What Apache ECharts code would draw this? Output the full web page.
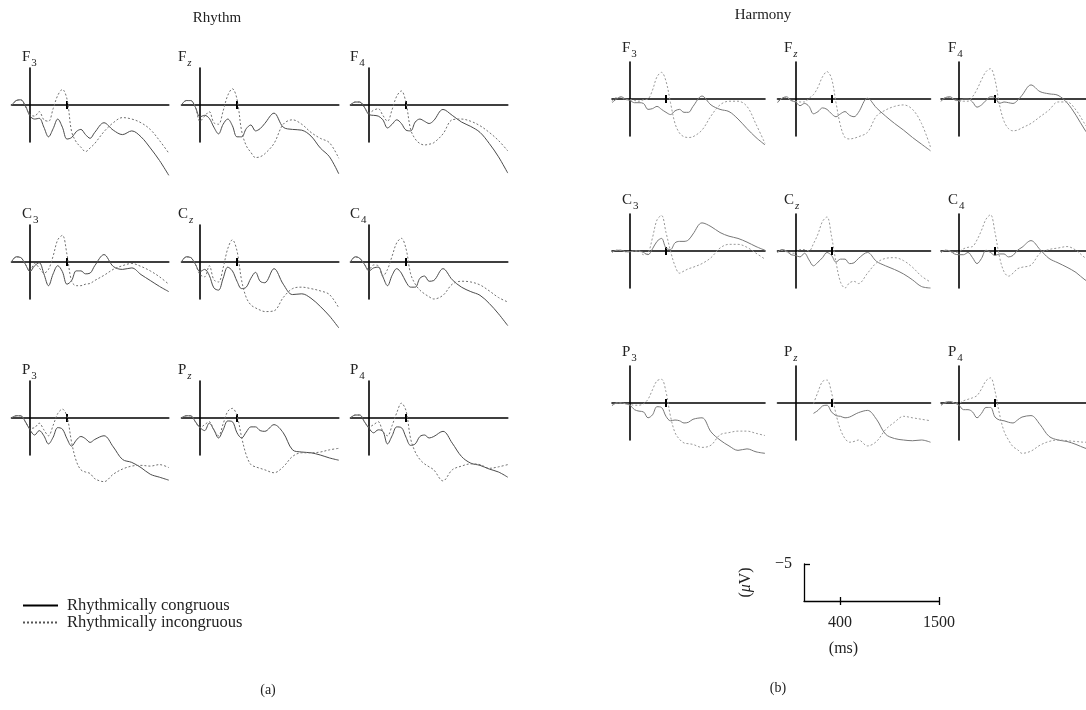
<!DOCTYPE html>
<html>
<head>
<meta charset="utf-8">
<script src="https://cdn.jsdelivr.net/npm/echarts@6/dist/echarts.min.js"></script>
<style>
  html, body { margin: 0; background: #fff; }
  #chart { width: 1086px; height: 710px; }
</style>
</head>
<body>
<div id="chart"></div>
<script>
// time points (ms)
const times = [-200, -150, -100, -50, 0, 50, 100, 150, 200, 250, 300, 350, 400, 450, 500, 550, 600, 650, 700, 800, 900, 1000, 1100, 1200, 1300, 1400, 1500]

// Rhythm, µV (negative plotted up)
const rhyF3Con = [0.1, -0.6, -0.7, 0.1, 1.5, 1.9, 1.8, 3.0, 4.3, 3.2, 1.9, 3.0, 4.6, 4.4, 3.6, 3.3, 4.0, 4.5, 3.7, 2.4, 3.4, 4.0, 3.5, 4.3, 5.8, 7.5, 9.5]
const rhyF3Inc = [0.1, -0.6, -0.7, 0.2, 1.3, 1.5, 0.9, 2.0, 2.2, 0.5, -1.3, -2.1, -0.8, 3.6, 5.0, 5.7, 6.3, 5.8, 5.2, 3.6, 2.4, 1.7, 1.9, 2.4, 3.3, 4.8, 6.5]
const rhyFzCon = [0, -0.6, -0.6, 0.3, 1.6, 1.4, 1.8, 3.0, 3.9, 2.6, 1.9, 2.8, 4.3, 4.3, 3.2, 2.7, 3.5, 3.2, 2.5, 1.1, 3.0, 3.3, 3.4, 4.2, 5.8, 7.0, 9.3]
const rhyFzInc = [0, -0.6, -0.6, 0.3, 2.2, 1.5, 0.9, 2.4, 2.6, 0.8, -1.3, -2.2, -0.8, 3.5, 5.5, 6.4, 7.1, 7.0, 6.6, 5.2, 2.6, 2.0, 2.6, 3.7, 4.5, 5.1, 7.2]
const rhyF4Con = [0, -0.4, -0.4, 0.3, 1.3, 1.4, 1.5, 2.0, 3.1, 2.6, 2.0, 2.5, 3.4, 3.5, 2.3, 1.9, 2.2, 2.5, 2.1, 0.6, 1.4, 2.3, 2.9, 3.7, 5.2, 7.0, 9.2]
const rhyF4Inc = [0, -0.4, -0.4, 0.3, 1.1, 0.7, 0.5, 1.4, 2.2, 0.6, -1.2, -1.9, -0.3, 3.3, 4.6, 5.2, 5.4, 5.3, 5.1, 3.9, 2.0, 1.9, 2.2, 2.8, 3.7, 4.8, 6.2]
const rhyC3Con = [0, -0.7, -0.6, 0.3, 1.3, 0.5, 0.1, 1.6, 3.2, 1.6, 0.5, 1.3, 3.0, 2.5, 1.2, 1.2, 1.6, 1.5, 0.5, -1.0, 0.6, 1.0, 0.8, 1.7, 2.5, 3.3, 4.0]
const rhyC3Inc = [0, -0.7, -0.6, 0.3, 1.2, 0.2, 0.8, 1.5, 1.0, -0.8, -3.0, -3.6, -1.0, 2.6, 3.2, 3.2, 3.0, 2.9, 2.5, 1.8, 1.0, 0.5, 0.2, 0.6, 1.2, 2.0, 3.0]
const rhyCzCon = [0, -0.7, -0.6, 0.3, 1.3, 1.0, 1.8, 3.5, 3.8, 2.2, 0.7, 1.2, 2.6, 3.6, 3.4, 2.2, 1.4, 2.6, 2.8, 0.9, 3.0, 4.4, 4.3, 4.9, 6.0, 7.3, 8.9]
const rhyCzInc = [0, -0.7, -0.6, 0.3, 1.7, 2.0, 0.5, 2.4, 2.7, 0.8, -1.8, -3.0, -1.5, 2.5, 4.8, 5.8, 6.2, 6.5, 6.7, 6.6, 4.8, 3.6, 3.4, 3.6, 3.9, 4.4, 6.2]
const rhyC4Con = [0, -0.7, -0.5, 0.3, 1.2, 0.8, 0.7, 2.0, 3.2, 1.8, 0.9, 1.5, 2.7, 3.4, 3.4, 2.2, 1.9, 2.6, 2.5, 0.9, 2.4, 3.4, 4.0, 4.5, 5.6, 7.0, 8.6]
const rhyC4Inc = [0, -0.7, -0.5, 0.3, 1.0, 0.4, 0.5, 1.9, 1.0, -0.8, -2.6, -3.2, -1.8, 1.6, 3.0, 3.8, 4.3, 4.7, 5.0, 4.5, 3.0, 2.6, 2.7, 3.1, 3.9, 4.8, 5.4]
const rhyP3Con = [0, -0.3, -0.3, 0.5, 1.6, 2.3, 1.7, 2.4, 3.5, 2.6, 1.3, 1.5, 2.8, 3.8, 3.0, 2.5, 2.8, 3.3, 2.9, 2.4, 3.9, 5.6, 6.0, 6.7, 7.6, 8.0, 8.4]
const rhyP3Inc = [0, -0.3, -0.3, 0.5, 1.4, 1.3, 0.7, 1.6, 2.4, 1.0, -0.6, -1.2, -0.2, 3.3, 5.8, 7.0, 7.3, 7.5, 8.2, 8.6, 7.6, 6.9, 6.5, 6.4, 6.5, 6.3, 6.7]
const rhyPzCon = [0, -0.3, -0.3, 0.5, 1.3, 1.7, 0.7, 1.6, 2.7, 1.6, 0.4, 0.5, 2.0, 2.7, 1.9, 1.2, 1.2, 1.7, 1.8, 0.9, 2.0, 4.3, 4.6, 4.7, 5.0, 5.4, 5.7]
const rhyPzInc = [0, -0.3, -0.3, 0.5, 1.3, 0.9, 0.5, 1.6, 2.4, 0.8, -0.9, -1.3, -0.3, 2.6, 5.0, 6.3, 6.6, 6.8, 7.0, 7.4, 6.6, 5.2, 4.7, 4.7, 4.6, 4.3, 4.1]
const rhyP4Con = [0, -0.4, -0.4, 0.5, 1.4, 2.0, 1.6, 1.8, 3.5, 2.4, 1.2, 1.3, 2.6, 3.7, 3.5, 2.5, 2.3, 2.7, 2.5, 1.8, 3.4, 5.2, 6.1, 6.4, 6.9, 7.3, 8.0]
const rhyP4Inc = [0, -0.4, -0.4, 0.5, 1.2, 0.9, 0.5, 1.8, 2.4, 1.0, -0.7, -2.0, -1.0, 2.8, 4.6, 5.6, 6.2, 6.6, 7.0, 8.5, 7.0, 6.5, 6.2, 6.3, 6.8, 6.6, 6.3]

// Harmony, µV
const harF3Con = [0.5, 0, -0.3, 0, 0.2, 0.5, 0.5, 0.6, 1.4, 1.3, 1.0, 1.4, 1.8, 2.1, 1.6, 1.4, 1.8, 1.8, 1.0, -0.4, 0.8, 1.4, 1.7, 2.7, 4.0, 5.2, 6.2]
const harF3Inc = [0.3, -0.2, -0.2, 0.1, 0.1, 0.2, 0.3, 0.1, 0.0, -1.2, -3.0, -3.6, -2.4, 0.5, 3.3, 4.6, 5.1, 5.2, 5.1, 4.2, 2.3, 0.8, 0.3, 0.3, 1.0, 3.4, 6.0]
const harFzCon = [0.5, -0.1, -0.3, 0.2, 0.4, 0.9, 0.6, 1.0, 2.0, 1.7, 1.2, 1.4, 2.0, 2.4, 2.0, 1.7, 2.2, 2.4, 1.8, -0.1, 1.2, 2.3, 3.3, 4.2, 5.2, 6.1, 7.0]
const harFzInc = [0.4, -0.1, -0.2, 0.2, 0.3, 0.4, 0.4, -0.1, -0.6, -1.6, -3.0, -3.7, -2.8, 0.5, 3.6, 5.2, 5.4, 5.3, 5.1, 4.5, 2.3, 1.5, 1.0, 0.8, 1.4, 3.3, 6.5]
const harF4Con = [0.3, -0.2, -0.3, 0.1, 0.2, 0.0, 0.0, 0.4, 1.1, 0.8, 0.2, -0.3, -0.2, 0.6, 0.4, 0.5, 0.6, 0.2, -0.5, -1.9, -1.0, -0.7, -0.5, 0.5, 2.2, 4.2, 5.8]
const harF4Inc = [0.3, -0.2, -0.2, 0.1, 0.3, 0.3, 0.3, -0.3, -1.3, -2.6, -3.7, -4.1, -2.6, 0.8, 3.0, 4.0, 4.3, 4.2, 3.9, 3.3, 2.4, 1.5, 0.4, 0.4, 1.5, 3.4, 5.0]
const harC3Con = [0.2, -0.1, -0.1, 0.1, 0.1, 0.0, 0.0, 0.2, 0.5, -0.3, -1.3, -1.7, -0.4, -0.2, -1.1, -1.3, -1.3, -1.5, -2.3, -3.8, -3.3, -2.5, -2.0, -1.7, -1.2, -0.6, -0.1]
const harC3Inc = [0.2, -0.1, -0.1, 0.1, 0.1, 0.0, 0.0, 0.5, 0.3, -1.8, -4.2, -4.8, -2.5, 0.0, 2.0, 3.0, 2.7, 2.4, 2.2, 1.7, 0.9, -0.4, -0.9, -0.9, -0.5, 0.3, 1.1]
const harCzCon = [0.2, -0.2, 0.0, 0.5, 0.6, 0.8, 0.3, 1.2, 2.0, 1.5, 0.9, 0.2, 0.6, 1.5, 1.1, 1.1, 1.7, 1.6, 1.0, 0.2, 1.4, 2.0, 2.5, 3.1, 3.9, 4.8, 5.0]
const harCzInc = [0.2, -0.1, 0.1, 0.3, 0.3, -0.2, -0.2, 0.0, -1.0, -2.3, -4.0, -4.6, -2.0, 1.5, 4.2, 5.0, 4.3, 4.1, 4.4, 3.0, 1.6, 1.0, 0.9, 1.3, 2.2, 3.4, 4.2]
const harC4Con = [0.2, -0.1, 0.0, 0.4, 0.5, 0.5, 0.2, 0.9, 1.7, 1.0, -0.1, 0.2, 0.6, 0.4, 0.4, 0.8, 0.6, -0.1, -0.5, -1.4, -0.2, 1.0, 1.6, 2.2, 2.9, 3.9, 4.5]
const harC4Inc = [0.2, -0.1, 0.0, 0.2, 0.1, -0.3, -0.5, -0.6, -1.5, -2.8, -4.3, -4.9, -2.5, 0.8, 2.8, 3.4, 3.0, 2.4, 2.2, 1.9, 0.3, -0.2, -0.4, -0.6, -0.1, 0.9, 1.5]
const harP3Con = [0.4, 0.0, 0.0, 0.1, 0.3, 0.9, 1.1, 1.2, 2.0, 1.6, 0.5, 0.6, 1.8, 2.4, 2.3, 2.4, 2.7, 2.6, 2.2, 2.0, 3.9, 5.0, 5.8, 6.4, 6.2, 6.6, 6.8]
const harP3Inc = [0.3, 0.0, 0.0, 0.1, 0.2, 0.3, 0.3, 0.1, -0.5, -1.8, -3.0, -3.2, -1.5, 1.8, 4.0, 4.9, 5.4, 5.5, 5.6, 6.0, 5.7, 4.3, 4.0, 3.8, 3.8, 4.1, 4.4]
const harPzCon = [null, null, null, null, null, null, null, null, 1.4, 1.0, 0.4, 0.3, 1.2, 1.7, 1.8, 2.0, 1.9, 1.6, 1.3, 1.0, 2.2, 4.2, 4.8, 5.0, 5.1, 5.0, 5.3]
const harPzInc = [null, null, null, null, null, null, null, null, 0.1, -1.5, -2.9, -3.1, -1.4, 1.5, 3.6, 4.8, 5.3, 5.2, 5.0, 5.8, 5.2, 3.6, 2.6, 1.8, 2.0, 2.2, 2.4]
const harP4Con = [0.3, -0.1, -0.2, 0.0, 0.3, 0.9, 0.9, 1.2, 2.0, 1.4, 0.6, 0.6, 1.9, 2.3, 2.4, 2.6, 2.7, 2.3, 1.9, 1.7, 2.9, 4.5, 5.0, 5.2, 5.6, 6.1, 6.4]
const harP4Inc = [0.3, 0.0, -0.2, 0.0, 0.0, -0.3, -0.5, -0.7, -1.0, -1.9, -3.0, -3.4, -1.6, 1.5, 3.8, 5.0, 5.9, 6.3, 6.8, 6.5, 5.7, 5.2, 5.0, 5.1, 5.2, 5.3, 5.3]

// electrode labels (letter, subscript)
const electrodes = [['F', '3'], ['F', 'z'], ['F', '4'], ['C', '3'], ['C', 'z'], ['C', '4'], ['P', '3'], ['P', 'z'], ['P', '4']]
const rhythmCon = [rhyF3Con, rhyFzCon, rhyF4Con, rhyC3Con, rhyCzCon, rhyC4Con, rhyP3Con, rhyPzCon, rhyP4Con]
const rhythmInc = [rhyF3Inc, rhyFzInc, rhyF4Inc, rhyC3Inc, rhyCzInc, rhyC4Inc, rhyP3Inc, rhyPzInc, rhyP4Inc]
const harmonyCon = [harF3Con, harFzCon, harF4Con, harC3Con, harCzCon, harC4Con, harP3Con, harPzCon, harP4Con]
const harmonyInc = [harF3Inc, harFzInc, harF4Inc, harC3Inc, harCzInc, harC4Inc, harP3Inc, harPzInc, harP4Inc]

// scale bar ticks
const scaleMsTicks = [400, 1500]
const scaleUvTicks = [-5]

const serif = '"Liberation Serif", "DejaVu Serif", serif'
const textColor = '#222'

// panel layout for the two halves
const blocks = [
  {
    con: rhythmCon, inc: rhythmInc,
    names: ['Rhythmically congruous', 'Rhythmically incongruous'],
    x0: [30, 200, 369], base: [105, 262, 418], pxPerMs: 37 / 400,
    labelX: [22, 178, 350], labelDy: -55,
    conColor: '#4a4a4a', incColor: '#707070',
  },
  {
    con: harmonyCon, inc: harmonyInc,
    names: ['Harmonically congruous', 'Harmonically incongruous'],
    x0: [630, 795.5, 959], base: [99, 251, 403], pxPerMs: 36 / 400,
    labelX: [622, 784, 948], labelDy: -58,
    conColor: '#777', incColor: '#999',
  },
]

const chart = echarts.init(document.getElementById('chart'))

const grids = []
const xAxes = []
const yAxes = []
const series = []
const graphics = []

const axisColor = '#000'
const halfHeight = 37 // px for 5 µV

function toPoints(arr) {
  return times.map((t, k) => [t, arr[k] == null ? '-' : arr[k]])
}

let p = 0
blocks.forEach((b) => {
  for (let i = 0; i < 9; i++) {
    const row = Math.floor(i / 3)
    const col = i % 3
    const x0 = b.x0[col]
    const base = b.base[row]
    grids.push({
      left: x0 - 200 * b.pxPerMs,
      top: base - halfHeight,
      width: 1700 * b.pxPerMs,
      height: halfHeight * 2,
      containLabel: false,
      outerBoundsMode: 'none',
    })
    const tick = { show: true, customValues: [400], length: 4, lineStyle: { color: axisColor, width: 2 } }
    xAxes.push({
      gridIndex: p, type: 'value', min: -200, max: 1500,
      axisLine: { show: true, onZero: true, onZeroAxisIndex: p, lineStyle: { color: axisColor, width: 1.6 } },
      axisTick: tick,
      axisLabel: { show: false },
      splitLine: { show: false },
    })
    xAxes.push({
      gridIndex: p, type: 'value', min: -200, max: 1500, position: 'top',
      axisLine: { show: false, onZero: true, onZeroAxisIndex: p },
      axisTick: tick,
      axisLabel: { show: false },
      splitLine: { show: false },
    })
    yAxes.push({
      gridIndex: p, type: 'value', min: -5, max: 5, inverse: true,
      axisLine: { show: true, onZero: true, onZeroAxisIndex: 2 * p, lineStyle: { color: axisColor, width: 1.6 } },
      axisTick: { show: false },
      axisLabel: { show: false },
      splitLine: { show: false },
    })
    series.push({
      type: 'line', name: b.names[0], xAxisIndex: 2 * p, yAxisIndex: p,
      data: toPoints(b.con[i]), symbol: 'none', smooth: 0.35, clip: false, silent: true,
      itemStyle: { color: b.conColor },
      lineStyle: { color: b.conColor, width: 1 },
    })
    series.push({
      type: 'line', name: b.names[1], xAxisIndex: 2 * p, yAxisIndex: p,
      data: toPoints(b.inc[i]), symbol: 'none', smooth: 0.35, clip: false, silent: true,
      itemStyle: { color: b.incColor },
      lineStyle: { color: b.incColor, width: 1, type: [2, 2] },
    })
    const el = electrodes[i]
    graphics.push({
      type: 'text', left: b.labelX[col], top: base + b.labelDy,
      style: {
        text: '{b|' + el[0] + '}{' + (el[1] === 'z' ? 'z' : 's') + '|' + el[1] + '}',
        rich: {
          b: { fontFamily: serif, fontSize: 15, fill: textColor, verticalAlign: 'bottom', padding: [0, 1, 4, 0] },
          s: { fontFamily: serif, fontSize: 11, fill: textColor, verticalAlign: 'bottom' },
          z: { fontFamily: serif, fontSize: 11, fill: textColor, verticalAlign: 'bottom', fontStyle: 'italic' },
        },
      },
    })
    p++
  }
})

// scale bar (last grid)
const sb = p
grids.push({ left: 804, top: 564, width: 135, height: 37, containLabel: false, outerBoundsMode: 'none' })
const sbTick = { show: true, customValues: scaleMsTicks, length: 4, lineStyle: { color: axisColor, width: 1.3 } }
xAxes.push({
  gridIndex: sb, type: 'value', min: 0, max: 1500,
  axisLine: { show: true, onZero: true, onZeroAxisIndex: sb, lineStyle: { color: axisColor, width: 1.3 } },
  axisTick: sbTick,
  axisLabel: {
    show: true, customValues: scaleMsTicks, margin: 14, fontFamily: serif, fontSize: 16, color: textColor,
    formatter: (v) => String(v),
  },
  splitLine: { show: false },
  name: '(ms)', nameLocation: 'middle', nameGap: 40,
  nameTextStyle: { fontFamily: serif, fontSize: 16, color: textColor, padding: [0, 56, 0, 0] },
})
xAxes.push({
  gridIndex: sb, type: 'value', min: 0, max: 1500, position: 'top',
  axisLine: { show: false, onZero: true, onZeroAxisIndex: sb },
  axisTick: sbTick,
  axisLabel: { show: false },
  splitLine: { show: false },
})
yAxes.push({
  gridIndex: sb, type: 'value', min: -5, max: 0, inverse: true,
  axisLine: { show: true, onZero: false, lineStyle: { color: axisColor, width: 1.3 } },
  axisTick: { show: true, inside: true, customValues: scaleUvTicks, length: 6, lineStyle: { color: axisColor, width: 1.3 } },
  axisLabel: {
    show: true, customValues: scaleUvTicks, margin: 12, fontFamily: serif, fontSize: 16, color: textColor,
    formatter: (v) => String(v).replace('-', '\u2212'),
    padding: [0, 0, 6, 0],
  },
  splitLine: { show: false },
  name: '({i|\u03bc}V)', nameLocation: 'middle', nameGap: 50, nameRotate: 90,
  nameTextStyle: {
    fontFamily: serif, fontSize: 16, color: textColor,
    rich: { i: { fontFamily: serif, fontSize: 16, color: textColor, fontStyle: 'italic' } },
  },
})

// titles and panel captions
const plainText = (text, x, y, size) => ({
  type: 'text', x: x, y: y,
  style: { text: text, fontFamily: serif, fontSize: size, fill: textColor, textAlign: 'center', textVerticalAlign: 'middle' },
})
graphics.push(plainText('Rhythm', 217, 18, 15))
graphics.push(plainText('Harmony', 763, 15, 15))
graphics.push(plainText('(a)', 268, 690, 14))
graphics.push(plainText('(b)', 778, 688, 14))

const option = {
  animation: false,
  backgroundColor: '#fff',
  grid: grids,
  xAxis: xAxes,
  yAxis: yAxes,
  legend: {
    left: 22, top: 597, padding: 0, orient: 'vertical', itemWidth: 35, itemHeight: 10, itemGap: 0,
    selectedMode: false,
    data: [
      { name: 'Rhythmically congruous', lineStyle: { color: '#000' }, itemStyle: { color: 'transparent', borderWidth: 0 } },
      { name: 'Rhythmically incongruous', lineStyle: { color: '#555' }, itemStyle: { color: 'transparent', borderWidth: 0 } },
    ],
    textStyle: { fontFamily: serif, fontSize: 16.5, color: textColor, padding: [0, 0, 0, 4] },
  },
  series: series,
  graphic: graphics,
}
chart.setOption(option)
</script>
</body>
</html>
